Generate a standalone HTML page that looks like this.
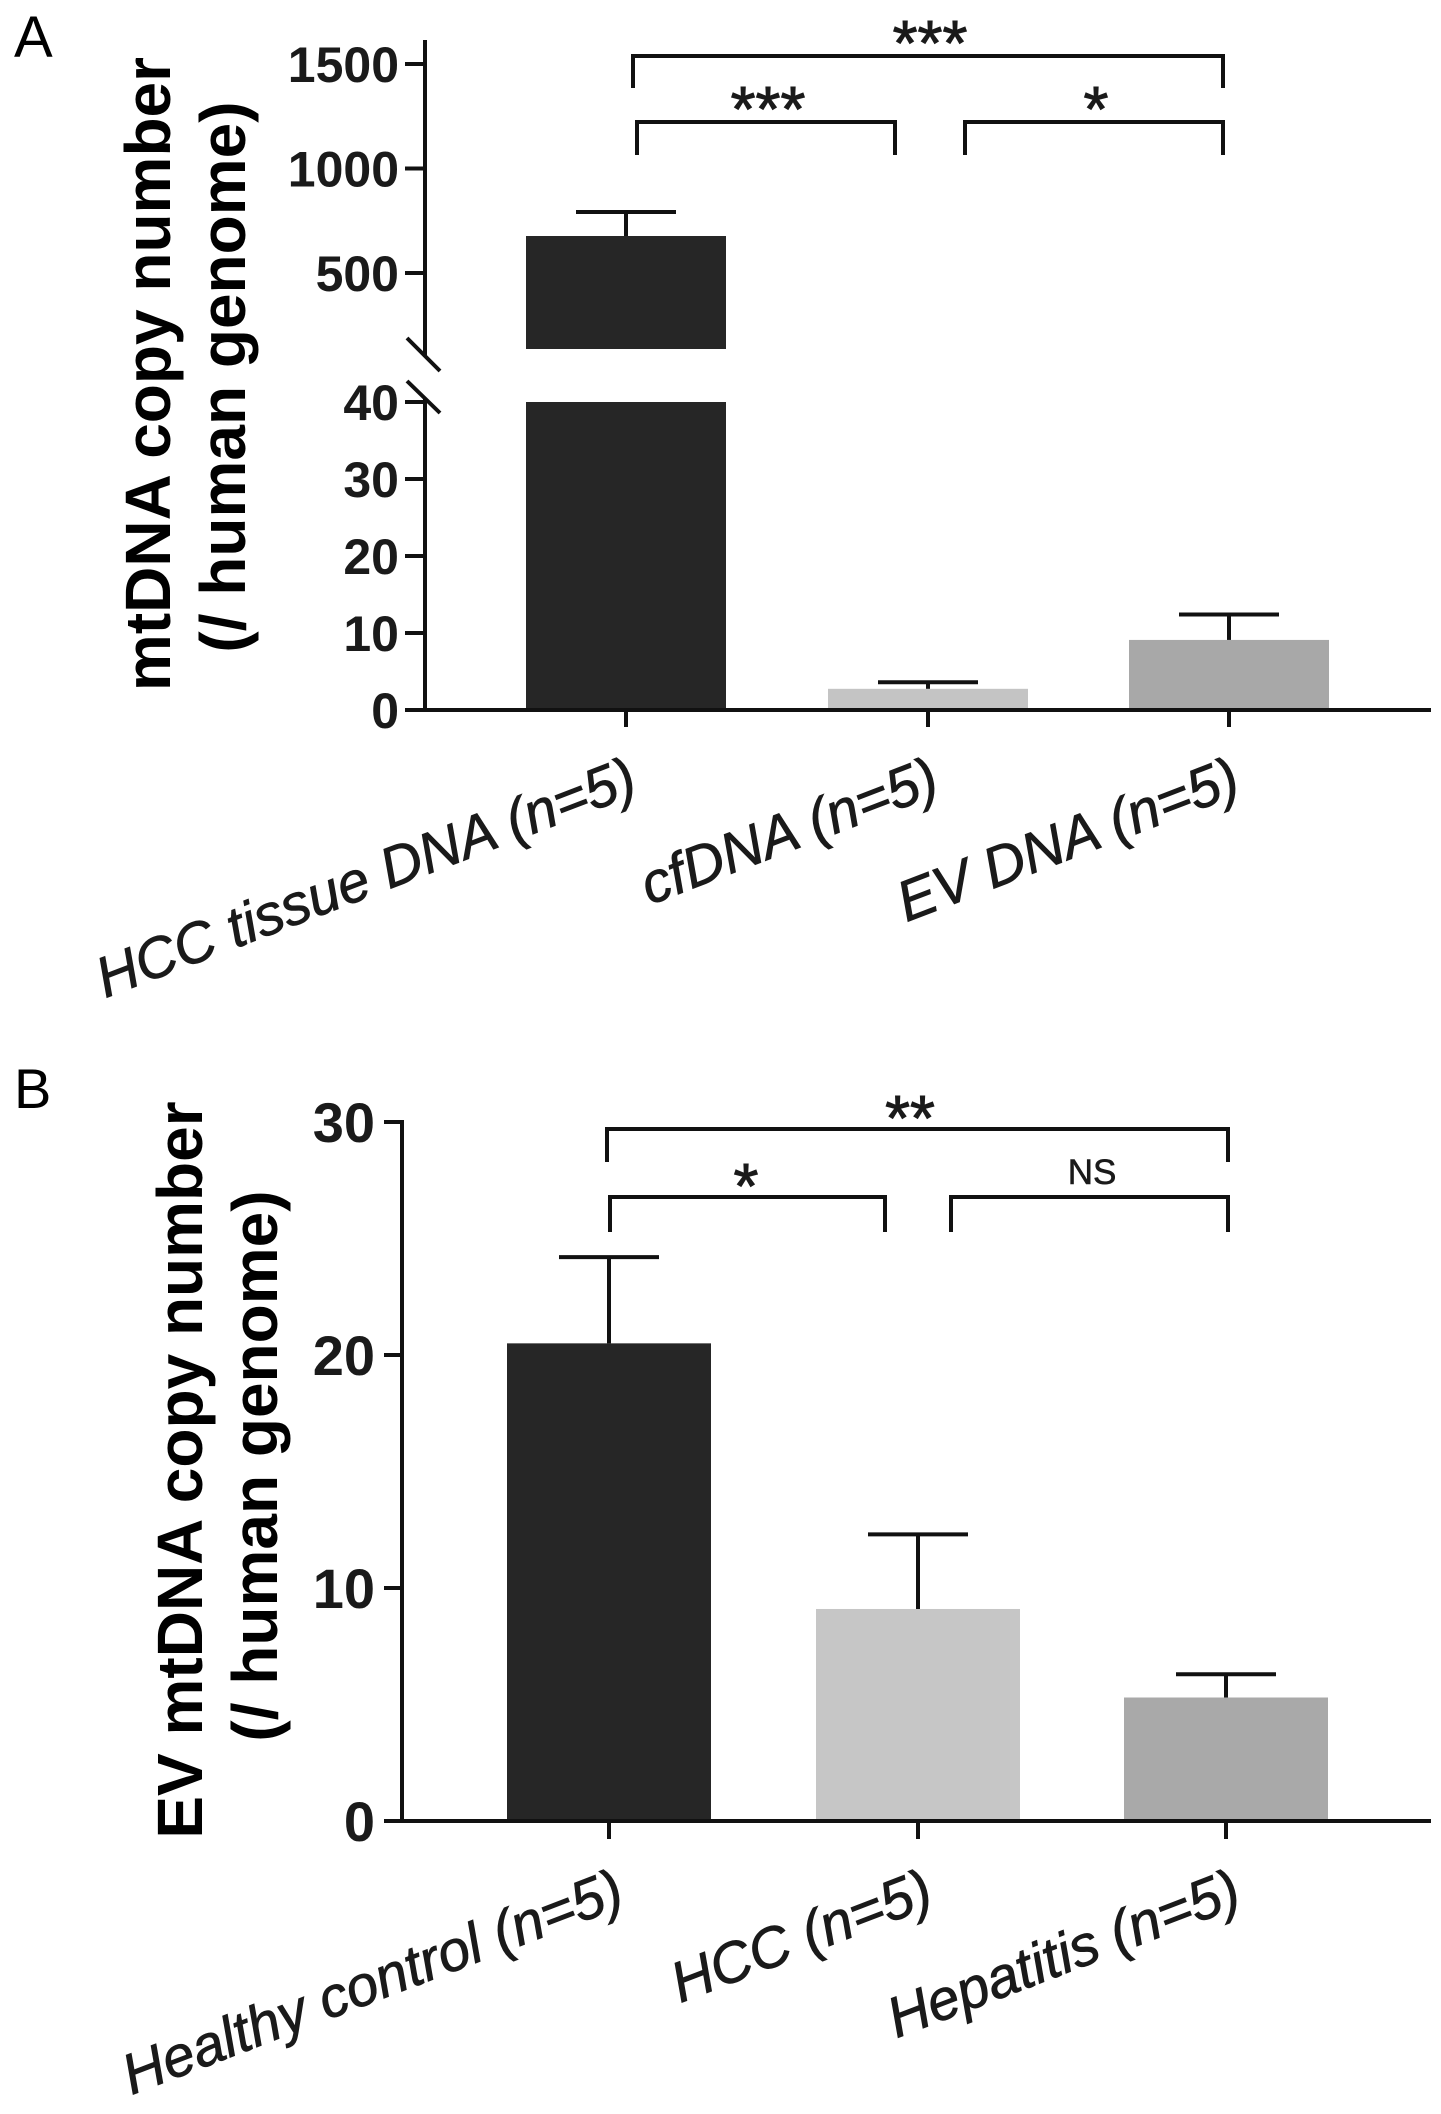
<!DOCTYPE html>
<html><head><meta charset="utf-8">
<style>
html,body{margin:0;padding:0;background:#fff;}
svg{display:block;}
text{font-family:"Liberation Sans",Arial,sans-serif;}
</style></head>
<body>
<svg id="fig" width="1441" height="2114" viewBox="0 0 1441 2114" xmlns="http://www.w3.org/2000/svg">
  <text x="14" y="57" font-size="58">A</text>
  <text x="14" y="1108" font-size="56">B</text>
  <g font-weight="bold" font-size="64" text-anchor="middle">
    <text transform="translate(170,374) rotate(-90)">mtDNA copy number</text>
    <text transform="translate(245,377) rotate(-90)">(/ human genome)</text>
  </g>
  <g font-weight="bold" font-size="64" text-anchor="middle">
    <text transform="translate(202,1470) rotate(-90)">EV mtDNA copy number</text>
    <text transform="translate(277,1466) rotate(-90)">(/ human genome)</text>
  </g>
  <g id="gA"></g>
  <g id="gB"></g>
</svg>
<script>
// ---- Panel A data ----
const catsA = ["HCC tissue DNA (n=5)", "cfDNA (n=5)", "EV DNA (n=5)"];
const valsA = [677, 2.75, 9.1];
const errA = [792, 3.6, 12.4];
const colorsA = ["#262626", "#c4c4c4", "#a8a8a8"];
const ticksLowA = [0, 10, 20, 30, 40];
const ticksHighA = [500, 1000, 1500];
const sigA = [["***", 0, 2, 0], ["***", 0, 1, 1], ["*", 1, 2, 1]];
// ---- Panel B data ----
const catsB = ["Healthy control (n=5)", "HCC (n=5)", "Hepatitis (n=5)"];
const valsB = [20.5, 9.1, 5.3];
const errB = [24.2, 12.3, 6.3];
const colorsB = ["#262626", "#c6c6c6", "#a9a9a9"];
const ticksB = [0, 10, 20, 30];
const sigB = [["**", 0, 2, 0], ["*", 0, 1, 1], ["NS", 1, 2, 1]];

const NS = "http://www.w3.org/2000/svg";
function mk(parent, tag, attrs, txt) {
  const e = document.createElementNS(NS, tag);
  for (const k in attrs) e.setAttribute(k, attrs[k]);
  if (txt !== undefined) e.textContent = txt;
  parent.appendChild(e);
  return e;
}
const LW = 4;
const LBL_SIZE = 57, LBL_ANG = -21;

// ---------- Panel A ----------
(function () {
  const g = document.getElementById("gA");
  const axX = 425, y0 = 710, y40 = 402, xEnd = 1431;
  const xc = [626, 928, 1229], bw = 200;
  const yLow = v => y0 - v * (y0 - y40) / 40;
  const yHigh = v => 273 - (v - 500) * 104.5 / 500;
  const upperBottom = 349;
  valsA.forEach((v, i) => {
    if (v > 40) {
      const r1 = mk(g, "rect", { x: xc[i] - bw / 2, y: yHigh(v), width: bw, height: upperBottom - yHigh(v), fill: colorsA[i] });
      
      
      const r2 = mk(g, "rect", { x: xc[i] - bw / 2, y: y40, width: bw, height: y0 - y40, fill: colorsA[i] });
      
      
    } else {
      const r = mk(g, "rect", { x: xc[i] - bw / 2, y: yLow(v), width: bw, height: y0 - yLow(v), fill: colorsA[i] });
      
      
    }
  });
  errA.forEach((e, i) => {
    const f = valsA[i] > 40 ? yHigh : yLow;
    const eg = mk(g, "g", { stroke: "#111", "stroke-width": LW });
    
    
    mk(eg, "line", { x1: xc[i], x2: xc[i], y1: f(valsA[i]), y2: f(e) });
    mk(eg, "line", { x1: xc[i] - 50, x2: xc[i] + 50, y1: f(e), y2: f(e) });
  });
  const ax = mk(g, "g", { stroke: "#111", "stroke-width": LW, fill: "none" });
  
  
  mk(ax, "line", { x1: axX, x2: axX, y1: 40, y2: 357 });
  mk(ax, "line", { x1: 407, x2: 440, y1: 338, y2: 371 });
  mk(ax, "line", { x1: 407, x2: 440, y1: 381, y2: 413 });
  mk(ax, "line", { x1: axX, x2: axX, y1: 398, y2: y0 + 2 });
  mk(ax, "line", { x1: axX - 2, x2: xEnd, y1: y0, y2: y0 });
  xc.forEach(x => mk(ax, "line", { x1: x, x2: x, y1: y0, y2: 727 }));
  const tg = mk(g, "g", { "font-size": 50, "font-weight": "bold", "text-anchor": "end", fill: "#1a1a1a" });
  
  
  ticksLowA.forEach(t => {
    mk(ax, "line", { x1: 405, x2: axX, y1: yLow(t), y2: yLow(t) });
    const tx = mk(tg, "text", { x: 399, y: yLow(t) + 18 }, String(t));
    
    
  });
  ticksHighA.forEach(t => {
    mk(ax, "line", { x1: 405, x2: axX, y1: yHigh(t), y2: yHigh(t) });
    const tx = mk(tg, "text", { x: 399, y: yHigh(t) + 18 }, String(t));
    
    
  });
  catsA.forEach((c, i) => {
    const x = xc[i] + 14, y = 793;
    const tx = mk(g, "text", { x: x, y: y, "font-size": LBL_SIZE, "font-style": "italic", "text-anchor": "end", fill: "#1a1a1a", stroke: "#1a1a1a", "stroke-width": 0.8, transform: `rotate(${LBL_ANG} ${x} ${y})` }, c);
    
    
  });
  const levY = [56, 122], legY = [88, 155], starBase = [65, 131];
  const bx = [[633, 1223], [637, 895], [965, 1223]];
  sigA.forEach((s, k) => {
    const lab = s[0], lvl = s[3];
    const x1 = bx[k][0], x2 = bx[k][1];
    const b = mk(g, "path", { d: `M${x1},${legY[lvl]} V${levY[lvl]} H${x2} V${legY[lvl]}`, stroke: "#111", "stroke-width": LW, fill: "none" });
    
    
    const tx = mk(g, "text", { x: (x1 + x2) / 2 + 2, y: starBase[lvl], "font-size": 64, "text-anchor": "middle", fill: "#1a1a1a", stroke: "#1a1a1a", "stroke-width": 1 }, lab);
    
    
  });
})();

// ---------- Panel B ----------
(function () {
  const g = document.getElementById("gB");
  const axX = 402, y0 = 1821, y30 = 1122, xEnd = 1431;
  const xc = [609, 918, 1226], bw = 204;
  const yS = v => y0 - v * (y0 - y30) / 30;
  valsB.forEach((v, i) => {
    const r = mk(g, "rect", { x: xc[i] - bw / 2, y: yS(v), width: bw, height: y0 - yS(v), fill: colorsB[i] });
    
    
  });
  errB.forEach((e, i) => {
    const eg = mk(g, "g", { stroke: "#111", "stroke-width": LW });
    
    
    mk(eg, "line", { x1: xc[i], x2: xc[i], y1: yS(valsB[i]), y2: yS(e) });
    mk(eg, "line", { x1: xc[i] - 50, x2: xc[i] + 50, y1: yS(e), y2: yS(e) });
  });
  const ax = mk(g, "g", { stroke: "#111", "stroke-width": LW, fill: "none" });
  
  
  mk(ax, "line", { x1: axX, x2: axX, y1: y30 - 2, y2: y0 + 2 });
  mk(ax, "line", { x1: 384, x2: xEnd, y1: y0, y2: y0 });
  xc.forEach(x => mk(ax, "line", { x1: x, x2: x, y1: y0, y2: 1839 }));
  const tg = mk(g, "g", { "font-size": 56, "font-weight": "bold", "text-anchor": "end", fill: "#1a1a1a" });
  
  
  ticksB.forEach(t => {
    mk(ax, "line", { x1: 384, x2: axX, y1: yS(t), y2: yS(t) });
    const tx = mk(tg, "text", { x: 375, y: yS(t) + 20 }, String(t));
    
    
  });
  catsB.forEach((c, i) => {
    const x = xc[i] + 18, y = 1905;
    const tx = mk(g, "text", { x: x, y: y, "font-size": LBL_SIZE, "font-style": "italic", "text-anchor": "end", fill: "#1a1a1a", stroke: "#1a1a1a", "stroke-width": 0.8, transform: `rotate(${LBL_ANG} ${x} ${y})` }, c);
    
    
  });
  const levY = [1129, 1197], legY = [1162, 1232];
  const bx = [[607, 1228], [610, 885], [951, 1228]];
  sigB.forEach((s, k) => {
    const lab = s[0], lvl = s[3];
    const x1 = bx[k][0], x2 = bx[k][1];
    const b = mk(g, "path", { d: `M${x1},${legY[lvl]} V${levY[lvl]} H${x2} V${legY[lvl]}`, stroke: "#111", "stroke-width": LW, fill: "none" });
    
    
    let tx;
    if (lab === "NS") {
      tx = mk(g, "text", { x: 1092, y: 1184, "font-size": 35, "text-anchor": "middle", fill: "#1a1a1a", stroke: "#1a1a1a", "stroke-width": 0.6 }, lab);
    } else {
      tx = mk(g, "text", { x: (lab === "**" ? 910 : 746), y: (lvl === 0 ? 1140 : 1208), "font-size": 64, "text-anchor": "middle", fill: "#1a1a1a", stroke: "#1a1a1a", "stroke-width": 1 }, lab);
    }
    
    
  });
})();
</script>
</body></html>
